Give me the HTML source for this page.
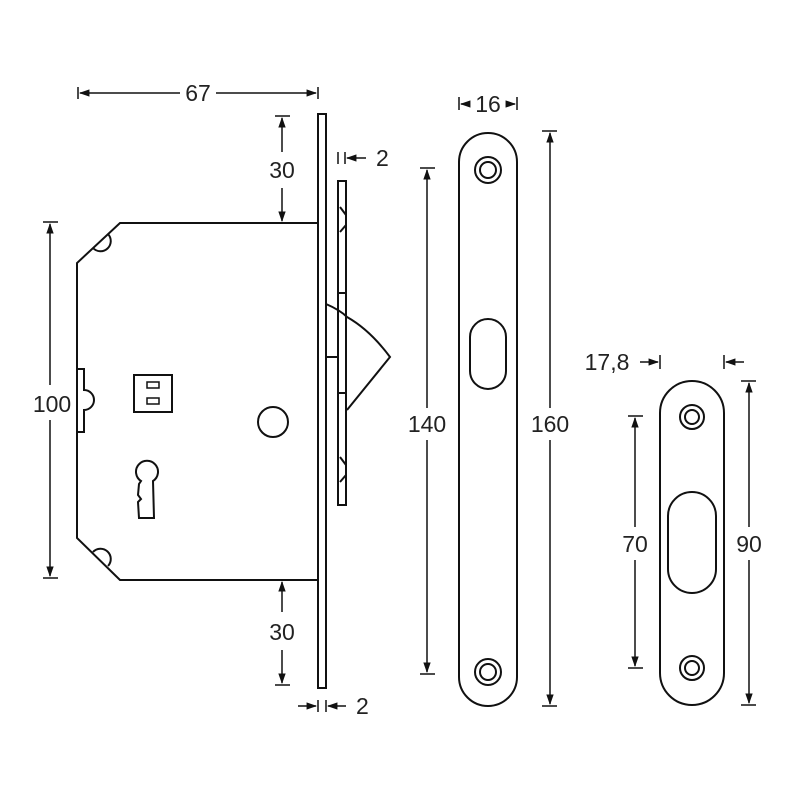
<!DOCTYPE html>
<html><head><meta charset="utf-8"><style>
html,body{margin:0;padding:0;background:#fff;}
svg{display:block;}
text{font-family:"Liberation Sans",sans-serif;font-size:23px;fill:#222;}
</style></head><body>
<svg width="800" height="800" viewBox="0 0 800 800" xmlns="http://www.w3.org/2000/svg">
<defs>
<marker id="a" viewBox="0 0 10 10" refX="9" refY="5" markerWidth="7" markerHeight="7" orient="auto-start-reverse"><path d="M0,1.5 L10,5 L0,8.5z" fill="#111"/></marker>
</defs>
<g fill="none" stroke="#111" stroke-width="2">
<path d="M318,223 H128 L120,223 L77,263 V538 L120,580 H318"/>
<path d="M108,234 A10,10 0 1 1 93,248"/>
<path d="M93,552 A10,10 0 1 1 108,566"/>
<path d="M77,369 H84 V390 A10,10 0 0 1 84,410 V432 H77"/>
<rect x="134" y="375" width="38" height="37"/>
<rect x="147" y="382" width="12" height="6" stroke-width="1.5"/>
<rect x="147" y="398" width="12" height="6" stroke-width="1.5"/>
<circle cx="273" cy="422" r="15"/>
<path d="M141,481 A11,11 0 1 1 153,481 L154,518 L139,518 L138,502 L141,499 L138,495 L139,484z"/>
<rect x="318" y="114" width="8" height="574"/>
<rect x="338" y="181" width="8" height="324"/>
<path d="M338,293 H346 M338,393 H346"/>
<path d="M340,207 L346,215 V225 L340,232"/>
<path d="M340,457 L346,465 V475 L340,482"/>
<path d="M326,304 Q340,310 347,317 Q370,330 390,357 L347,410"/>
<path d="M326,357 H338"/>
<rect x="459" y="133" width="58" height="573" rx="29"/>
<circle cx="488" cy="170" r="13"/><circle cx="488" cy="170" r="8"/>
<circle cx="488" cy="672" r="13"/><circle cx="488" cy="672" r="8"/>
<rect x="470" y="319" width="36" height="70" rx="18"/>
<rect x="660" y="381" width="64" height="324" rx="32"/>
<circle cx="692" cy="417" r="12"/><circle cx="692" cy="417" r="7"/>
<circle cx="692" cy="668" r="12"/><circle cx="692" cy="668" r="7"/>
<rect x="668" y="492" width="48" height="101" rx="24"/>
</g>
<g stroke="#111" stroke-width="1.5" fill="none">
<path d="M78,87 V99 M318,87 V99"/>
<line x1="80" y1="93" x2="180" y2="93" marker-start="url(#a)"/>
<line x1="216" y1="93" x2="316" y2="93" marker-end="url(#a)"/>
<path d="M275,116 H290"/>
<line x1="282" y1="118" x2="282" y2="152" marker-start="url(#a)"/>
<line x1="282" y1="188" x2="282" y2="221" marker-end="url(#a)"/>
<path d="M275,685 H290"/>
<line x1="282" y1="582" x2="282" y2="612" marker-start="url(#a)"/>
<line x1="282" y1="650" x2="282" y2="683" marker-end="url(#a)"/>
<path d="M338,152 V164 M345,152 V164"/>
<line x1="366" y1="158" x2="347" y2="158" marker-end="url(#a)"/>
<path d="M318,700 V712 M326,700 V712"/>
<line x1="298" y1="706" x2="316" y2="706" marker-end="url(#a)"/>
<line x1="346" y1="706" x2="328" y2="706" marker-end="url(#a)"/>
<path d="M43,222 H58 M43,578 H58"/>
<line x1="50" y1="224" x2="50" y2="385" marker-start="url(#a)"/>
<line x1="50" y1="420" x2="50" y2="576" marker-end="url(#a)"/>
<path d="M459,97 V110 M517,97 V110"/>
<line x1="468" y1="104" x2="461" y2="104" marker-end="url(#a)"/>
<line x1="508" y1="104" x2="515" y2="104" marker-end="url(#a)"/>
<path d="M420,168 H435 M420,674 H435"/>
<line x1="427" y1="170" x2="427" y2="408" marker-start="url(#a)"/>
<line x1="427" y1="440" x2="427" y2="672" marker-end="url(#a)"/>
<path d="M542,131 H557 M542,706 H557"/>
<line x1="550" y1="133" x2="550" y2="408" marker-start="url(#a)"/>
<line x1="550" y1="440" x2="550" y2="704" marker-end="url(#a)"/>
<path d="M660,355 V369 M724,355 V369"/>
<line x1="640" y1="362" x2="658" y2="362" marker-end="url(#a)"/>
<line x1="744" y1="362" x2="726" y2="362" marker-end="url(#a)"/>
<path d="M628,416 H643 M628,668 H643"/>
<line x1="635" y1="418" x2="635" y2="527" marker-start="url(#a)"/>
<line x1="635" y1="560" x2="635" y2="666" marker-end="url(#a)"/>
<path d="M741,381 H756 M741,705 H756"/>
<line x1="749" y1="383" x2="749" y2="527" marker-start="url(#a)"/>
<line x1="749" y1="560" x2="749" y2="703" marker-end="url(#a)"/>
</g>
<text x="198" y="101" text-anchor="middle">67</text>
<text x="282" y="178" text-anchor="middle">30</text>
<text x="282" y="640" text-anchor="middle">30</text>
<text x="376" y="166">2</text>
<text x="356" y="714">2</text>
<text x="52" y="412" text-anchor="middle">100</text>
<text x="488" y="112" text-anchor="middle">16</text>
<text x="427" y="432" text-anchor="middle">140</text>
<text x="550" y="432" text-anchor="middle">160</text>
<text x="607" y="370" text-anchor="middle">17,8</text>
<text x="635" y="552" text-anchor="middle">70</text>
<text x="749" y="552" text-anchor="middle">90</text>
</svg>
</body></html>
